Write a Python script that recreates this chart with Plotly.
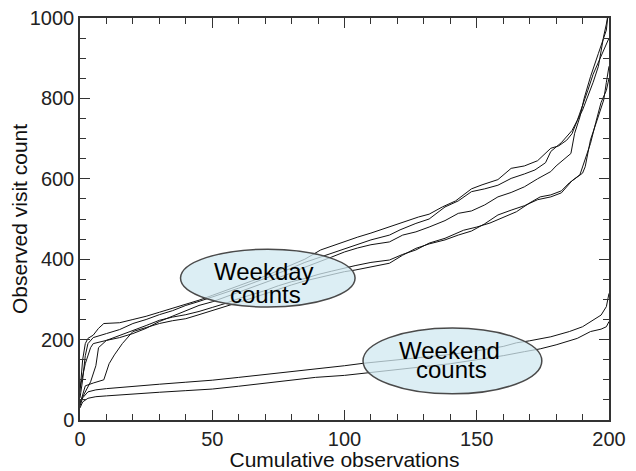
import plotly.graph_objects as go

# ---- Weekday count curves ----
wd_a_x = [0, 1, 2, 3, 5, 7, 9, 15, 20, 25, 30, 35, 40, 45, 50, 55, 60, 65, 70, 75, 80, 85, 91, 95, 100, 105, 110, 117, 122, 128,
          132, 137, 142, 148, 152, 158, 163, 168, 173, 178, 181, 184, 186, 188, 190, 192, 194, 196, 197, 198, 199, 199.4]
wd_a_y = [70, 150, 190, 203, 211, 228, 240, 242, 250, 258, 268, 278, 288, 298, 310, 322, 334, 347, 358, 372, 386, 400, 423, 432, 445, 455, 465, 481, 492, 505,
          512, 530, 545, 575, 585, 598, 626, 632, 645, 676, 682, 696, 712, 745, 771, 804, 840, 880, 920, 955, 985, 1000]

wd_b_x = [0, 1, 2, 3, 5, 8, 10, 15, 20, 25, 30, 35, 40, 45, 50, 55, 60, 65, 70, 75, 80, 85, 93, 100, 105, 110, 117, 121, 127, 132,
          138, 143, 148, 153, 158, 163, 168, 172, 176, 178, 182, 186, 188, 190, 192, 194, 196, 198, 200]
wd_b_y = [55, 100, 160, 190, 205, 210, 215, 225, 240, 250, 262, 272, 285, 295, 306, 316, 328, 340, 352, 365, 378, 392, 410, 425, 437, 448, 460, 473, 489, 500,
          530, 545, 568, 575, 584, 601, 612, 622, 640, 668, 690, 720, 745, 780, 820, 860, 890, 920, 950]

wd_c_x = [0, 1, 2, 4, 5, 10, 15, 20, 25, 30, 35, 40, 45, 50, 55, 60, 65, 70, 75, 80, 85, 90, 95, 100, 105, 110, 117, 122, 127, 132,
          138, 143, 148, 153, 158, 163, 168, 173, 178, 180, 183, 185.6, 187, 189, 190.6, 193, 196, 199, 199.5]
wd_c_y = [80, 110, 140, 180, 190, 198, 205, 215, 228, 245, 258, 270, 285, 294, 306, 318, 330, 342, 354, 366, 380, 392, 405, 418, 428, 436, 443, 460, 468, 480,
          496, 514, 520, 535, 555, 566, 580, 600, 618, 632, 648, 663, 713, 754, 800, 854, 912, 970, 1000]

wd_d_x = [0, 2, 4, 6, 7, 10, 15, 20, 25, 30, 35, 40, 45, 50, 55, 60, 65, 70, 75, 80, 85, 90, 95, 100, 104, 110, 117, 122, 127, 132,
          138, 145, 150, 155, 160, 165, 170, 174, 178, 182, 185, 188, 190, 191, 193, 195.5, 198, 199, 200]
wd_d_y = [45, 70, 95, 135, 180, 198, 210, 222, 235, 248, 256, 262, 270, 280, 290, 302, 312, 322, 334, 344, 352, 362, 370, 378, 384, 392, 398, 412, 423, 440,
          452, 472, 480, 490, 505, 518, 540, 555, 560, 570, 590, 605, 614, 630, 697, 746, 796, 840, 880]

wd_e_x = [0, 1, 2, 5, 9, 11, 13, 16, 20, 25, 30, 35, 40, 45, 50, 55, 60, 65, 70, 75, 80, 85, 90, 95, 100, 104, 110, 117, 122, 127,
          132, 138, 143, 148, 153, 158, 163, 168, 173, 178, 182, 186, 189, 191, 193, 195, 197, 199, 200]
wd_e_y = [40, 60, 85, 92, 100, 140, 162, 190, 220, 230, 240, 247, 252, 262, 272, 283, 292, 303, 314, 326, 336, 346, 354, 362, 369, 373, 380, 390, 410, 427,
          438, 448, 460, 470, 488, 510, 522, 533, 548, 555, 565, 595, 610, 650, 688, 740, 790, 820, 850]

# ---- Weekend count curves ----
we_a_x = [0, 1, 3, 6, 10, 20, 30, 40, 50, 60, 70, 80, 89, 100, 107, 120, 130, 140, 150, 160, 165, 170, 178, 185, 190, 194, 197, 199, 200]
we_a_y = [35, 55, 70, 75, 78, 84, 89, 94, 99, 106, 113, 120, 127, 135, 141, 150, 157, 163, 172, 183, 192, 197, 207, 220, 232, 249, 261, 282, 315]

we_b_x = [0, 1, 3, 6, 10, 20, 30, 40, 50, 60, 70, 80, 89, 100, 107, 120, 130, 140, 150, 160, 168, 174, 180, 188, 193, 197, 199, 200]
we_b_y = [30, 45, 54, 58, 60, 65, 69, 73, 77, 84, 91, 99, 106, 111, 116, 125, 133, 140, 150, 160, 170, 177, 187, 203, 220, 226, 232, 245]

x_tick_vals = [0, 50, 100, 150, 200]
y_tick_vals = [0, 200, 400, 600, 800, 1000]

FONT = "Liberation Sans, Arial, Helvetica, sans-serif"
LINE = "#111111"

fig = go.Figure()
for xs, ys in [(wd_a_x, wd_a_y), (wd_b_x, wd_b_y), (wd_c_x, wd_c_y), (wd_d_x, wd_d_y), (wd_e_x, wd_e_y),
               (we_a_x, we_a_y), (we_b_x, we_b_y)]:
    fig.add_trace(go.Scatter(x=xs, y=ys, mode="lines", line=dict(color=LINE, width=1), showlegend=False,
                             hoverinfo="skip"))

# Ellipses (semi-transparent fill, solid border)
ellipses = [(38, 104, 281, 425), (107, 174.6, 65, 229)]
for x0, x1, y0, y1 in ellipses:
    fig.add_shape(type="circle", xref="x", yref="y", x0=x0, x1=x1, y0=y0, y1=y1,
                  fillcolor="rgb(208,232,240)", opacity=0.75, line=dict(width=0), layer="above")
    fig.add_shape(type="circle", xref="x", yref="y", x0=x0, x1=x1, y0=y0, y1=y1,
                  fillcolor="rgba(0,0,0,0)", line=dict(color="#4a4a4a", width=1.5), layer="above")

labels = [("Weekday", 69.7, 369), ("counts", 70.3, 313), ("Weekend", 139.6, 174), ("counts", 140.3, 125)]
for t, x, y in labels:
    fig.add_annotation(x=x, y=y, text=t, showarrow=False, xanchor="center", yanchor="middle",
                       font=dict(family=FONT, size=24, color="black"))

axis_common = dict(showgrid=False, zeroline=False, showline=True, mirror="allticks", linecolor="#333333",
                   linewidth=1.5, ticks="inside", ticklen=10, tickwidth=1.2, tickcolor="#333333",
                   tickfont=dict(family=FONT, size=20, color="#222222"), automargin=False,
                   ticklabeloverflow="allow")

fig.update_xaxes(range=[0, 200], tickvals=x_tick_vals,
                 minor=dict(dtick=10, ticks="inside", ticklen=6, tickwidth=1, tickcolor="#333333"),
                 title=dict(text="Cumulative observations", font=dict(family=FONT, size=21, color="#111111"), standoff=12),
                 **axis_common)
fig.update_yaxes(range=[0, 1000], tickvals=y_tick_vals,
                 minor=dict(dtick=50, ticks="inside", ticklen=6, tickwidth=1, tickcolor="#333333"),
                 title=dict(text="Observed visit count", font=dict(family=FONT, size=21, color="#111111"), standoff=6),
                 **axis_common)

# The page body adds an 8px margin, so the figure is sized/margined to land the
# plot area where the reference has it inside the 636x471 window.
fig.update_layout(width=628, height=463, margin=dict(l=72, r=27, t=10, b=51),
                  paper_bgcolor="white", plot_bgcolor="white", showlegend=False)

fig.write_html("out.html")
